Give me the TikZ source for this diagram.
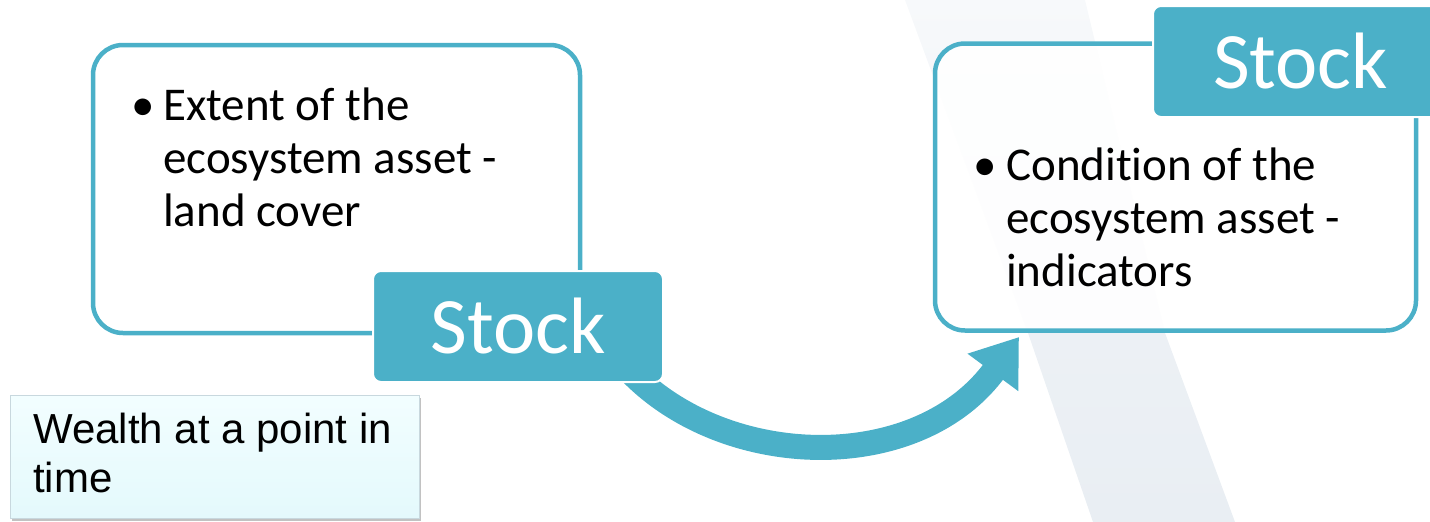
\documentclass[tikz,border=0pt]{standalone}
\usepackage{fontspec}
\setmainfont{Carlito}[Ligatures=NoCommon]
\newfontfamily\arialfont{Liberation Sans}
\usetikzlibrary{arrows.meta,shadows}
\definecolor{teal}{RGB}{75,176,200}
\definecolor{bandgray}{RGB}{233,238,243}
\definecolor{wealthtop}{RGB}{242,254,255}
\definecolor{wealthbot}{RGB}{228,249,252}
\definecolor{wealthedge}{RGB}{200,216,222}
\tikzset{
  bigbox/.style={draw=teal, line width=4.5pt, rounded corners=30pt, fill=white, fill opacity=0.9, inner sep=0pt},
  stockbox/.style={fill=teal, draw=white, line width=2pt, rounded corners=8pt, inner sep=0pt,
     text=white, font=\fontsize{80}{90}\selectfont},
  bodytext/.style={inner sep=0pt, anchor=base west, font=\fontsize{47}{53}\selectfont, text=black},
  bulletmark/.style={inner sep=0pt, anchor=base, font=\fontsize{47}{53}\selectfont, text=black},
  wealthbox/.style={draw=wealthedge, line width=1pt, top color=wealthtop, bottom color=wealthbot,
     inner sep=0pt, drop shadow={shadow xshift=2pt, shadow yshift=-3pt, fill=black!40, opacity=0.6}},
  wealthtext/.style={inner sep=0pt, anchor=base west, font=\arialfont\fontsize{42}{49}\selectfont, text=black},
  bigarrow/.style={draw=teal, line width=25pt, -{Triangle[width=60pt,length=44pt]}, fill=none}
}
\begin{document}
\begin{tikzpicture}[x=1pt,y=-1pt]
\useasboundingbox (0,0) rectangle (1430,522);
\clip (0,0) rectangle (1430,522);
% background band
\shade[top color=bandgray!35, bottom color=bandgray, middle color=bandgray!80] (905,0) -- (1085,0) -- (1165,333) -- (1235,522) -- (1093,522) -- (1028,333) -- cycle;
% arrow
\coordinate (astart) at (612,350);
\coordinate (aend) at (1019,337);
\draw[bigarrow] (astart) .. controls (700,470) and (912,482) .. (aend);
% left box
\node[bigbox, minimum width=487pt, minimum height=288pt] (extbox) at (336.5,189) {};
\node[bulletmark] (b1) at (143,120) {\textbullet};
\node[bodytext] (t1) at (163,120) {\parbox[t]{400pt}{Extent of the\\ecosystem asset -\\land cover}};
\node[stockbox, minimum width=290pt, minimum height=111pt] (stock1) at (518,326.5) {Stock};
% right box
\node[bigbox, minimum width=481pt, minimum height=287pt] (condbox) at (1175.5,187) {};
\node[bulletmark] (b2) at (985,180) {\textbullet};
\node[bodytext] (t2) at (1006,180) {\parbox[t]{400pt}{Condition of the\\ecosystem asset -\\indicators}};
\node[stockbox, minimum width=300pt, minimum height=111pt, text width=280pt, align=left] (stock2) at (1303,61.5) {\hspace*{50pt}Stock};
% wealth
\node[wealthbox, minimum width=409pt, minimum height=123pt] (wealth) at (214.5,456.5) {};
\node[wealthtext] (wt) at (33,443) {\parbox[t]{390pt}{Wealth at a point in\\time}};
\end{tikzpicture}
\end{document}
